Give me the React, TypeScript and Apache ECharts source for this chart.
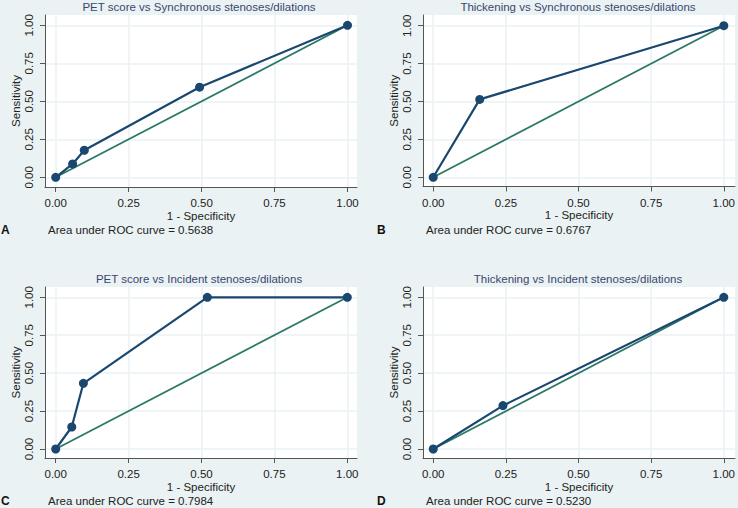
import React, { useEffect, useRef } from "react";
import * as echarts from "echarts";

// ---- data ----
const tickValues = [0, 0.25, 0.5, 0.75, 1];
const panelLetters = ["A", "B", "C", "D"];
const panelTitles = [
  "PET score vs Synchronous stenoses/dilations",
  "Thickening vs Synchronous stenoses/dilations",
  "PET score vs Incident stenoses/dilations",
  "Thickening vs Incident stenoses/dilations",
];
const aucTexts = [
  "Area under ROC curve = 0.5638",
  "Area under ROC curve = 0.6767",
  "Area under ROC curve = 0.7984",
  "Area under ROC curve = 0.5230",
];
const rocA = [[0, 0], [0.058, 0.088], [0.098, 0.178], [0.493, 0.593], [1, 1]];
const rocB = [[0, 0], [0.16, 0.514], [1, 1]];
const rocC = [[0, 0], [0.055, 0.145], [0.095, 0.433], [0.52, 1], [1, 1]];
const rocD = [[0, 0], [0.24, 0.286], [1, 1]];
const rocCurves = [rocA, rocB, rocC, rocD];
const referenceLine = [[0, 0], [1, 1]];
const xAxisName = "1 - Specificity";
const yAxisName = "Sensitivity";

// ---- layout (pixels) ----
const layouts = [
  { left: 45, right: 357, top: 15, bottom: 187, x0: 55.7, x1: 347.5, y0: 177.3, y1: 25.3, letterX: 1, aucX: 48, textY: 231 },
  { left: 423, right: 737, top: 15, bottom: 186.5, x0: 433.3, x1: 725.7, y0: 177.3, y1: 25.7, letterX: 377, aucX: 426, textY: 231 },
  { left: 45, right: 357, top: 287, bottom: 458, x0: 55.7, x1: 347.3, y0: 449, y1: 297.3, letterX: 1, aucX: 48, textY: 502 },
  { left: 423, right: 737, top: 287, bottom: 458, x0: 433.3, x1: 725.7, y0: 449, y1: 297.3, letterX: 377, aucX: 426, textY: 502 },
];

const BG = "#eaf2f3";
const NAVY = "#1a476f";
const GREEN = "#2a7866";
const FONT = "Liberation Sans, Arial, sans-serif";
const FS = 11.5;

export default function App() {
  const ref = useRef<HTMLDivElement>(null);
  useEffect(() => {
    document.body.style.margin = "0";
    const chart = echarts.init(ref.current!, null, { renderer: "svg" });
    const grid: any[] = [];
    const xAxis: any[] = [];
    const yAxis: any[] = [];
    const series: any[] = [];
    const title: any[] = [];
    const graphic: any[] = [];
    layouts.forEach((L, i) => {
      grid.push({
        left: L.left,
        top: L.top,
        width: L.right - L.left,
        height: L.bottom - L.top,
        show: true,
        backgroundColor: "#ffffff",
        borderWidth: 0,
      });
      const xs = L.x1 - L.x0;
      const ys = L.y0 - L.y1;
      xAxis.push({
        type: "value",
        gridIndex: i,
        min: -(L.x0 - L.left) / xs,
        max: 1 + (L.right - L.x1) / xs,
        name: xAxisName,
        nameLocation: "middle",
        nameGap: 20,
        nameTextStyle: { color: "#222", fontSize: FS, fontFamily: FONT },
        axisLine: { show: true, onZero: false, lineStyle: { color: "#555", width: 1 } },
        axisTick: { show: true, length: 5, customValues: tickValues, lineStyle: { color: "#555" } },
        axisLabel: {
          customValues: tickValues,
          formatter: (v: number) => v.toFixed(2),
          margin: 10,
          color: "#222",
          fontSize: FS,
          fontFamily: FONT,
        },
        splitLine: { show: true, lineStyle: { color: BG, width: 1.5 } },
      });
      yAxis.push({
        type: "value",
        gridIndex: i,
        min: -(L.bottom - L.y0) / ys,
        max: 1 + (L.y1 - L.top) / ys,
        name: yAxisName,
        nameLocation: "middle",
        nameGap: 23,
        nameTextStyle: { color: "#222", fontSize: FS, fontFamily: FONT },
        axisLine: { show: true, onZero: false, lineStyle: { color: "#555", width: 1 } },
        axisTick: { show: true, length: 5, customValues: tickValues, lineStyle: { color: "#555" } },
        axisLabel: {
          customValues: tickValues,
          formatter: (v: number) => v.toFixed(2),
          rotate: 90,
          margin: 10,
          color: "#222",
          fontSize: FS,
          fontFamily: FONT,
        },
        splitLine: { show: true, lineStyle: { color: BG, width: 1.5 } },
      });
      series.push({
        type: "line",
        xAxisIndex: i,
        yAxisIndex: i,
        data: referenceLine,
        showSymbol: false,
        symbol: "none",
        lineStyle: { color: GREEN, width: 1.8 },
        z: 2,
      });
      series.push({
        type: "line",
        xAxisIndex: i,
        yAxisIndex: i,
        data: rocCurves[i],
        symbol: "circle",
        symbolSize: 9,
        showAllSymbol: true,
        itemStyle: { color: NAVY },
        lineStyle: { color: NAVY, width: 2.2 },
        z: 3,
      });
      title.push({
        text: panelTitles[i],
        left: (L.left + L.right) / 2 - 2,
        top: L.top - 14,
        textAlign: "center",
        textStyle: { color: "#3a4670", fontSize: FS, fontWeight: "normal", fontFamily: FONT },
        padding: 0,
      });
      graphic.push({
        type: "text",
        left: L.letterX,
        top: L.textY - 7,
        style: { text: panelLetters[i], fill: "#111", font: `bold 12px ${FONT}` },
      });
      graphic.push({
        type: "text",
        left: L.aucX,
        top: L.textY - 7,
        style: { text: aucTexts[i], fill: "#222", font: `${FS}px ${FONT}` },
      });
    });
    chart.setOption({
      animation: false,
      backgroundColor: BG,
      grid,
      xAxis,
      yAxis,
      series,
      title,
      graphic,
    });
    return () => chart.dispose();
  }, []);
  return <div ref={ref} style={{ width: 738, height: 508 }} />;
}
